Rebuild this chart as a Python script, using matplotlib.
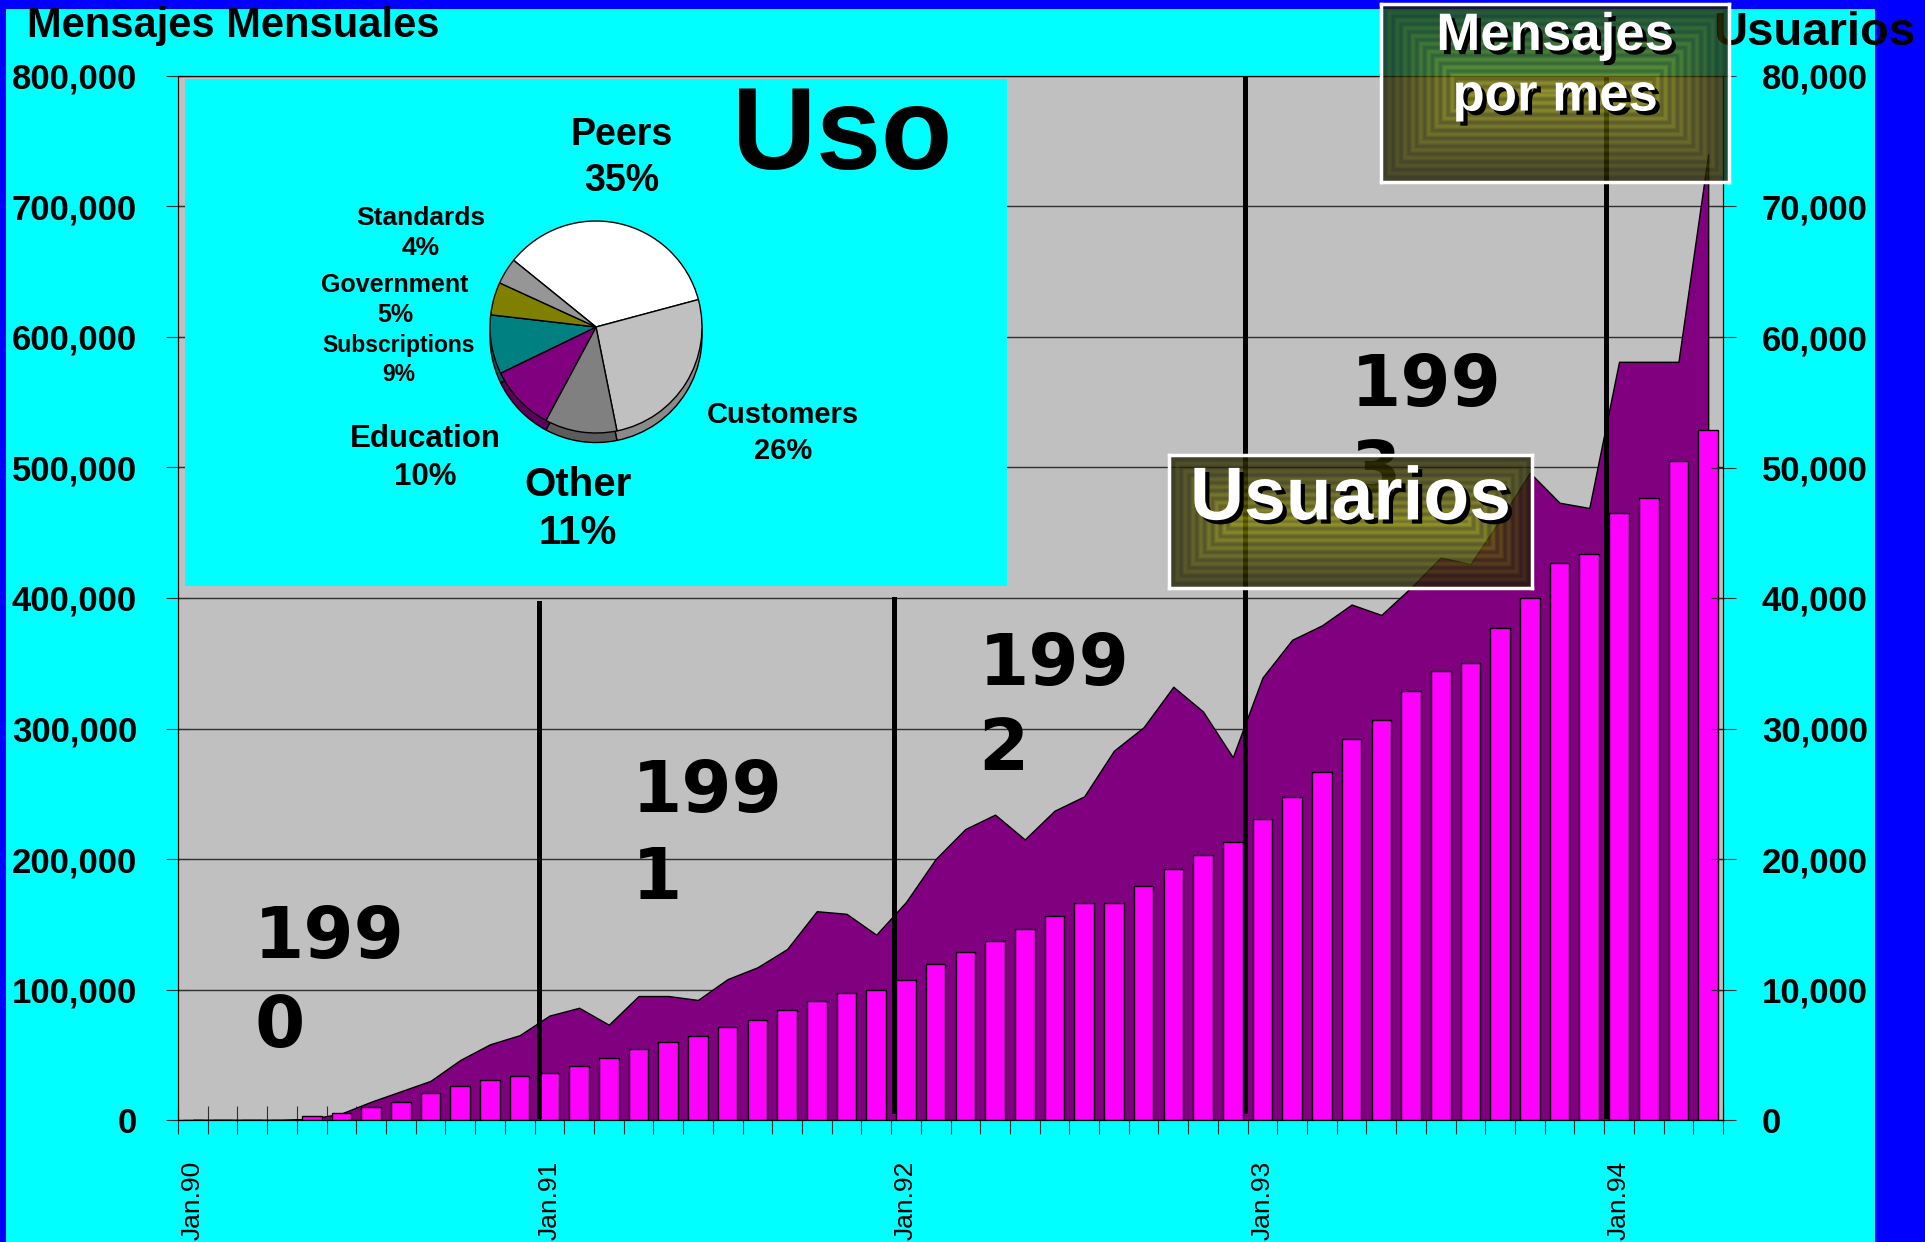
import numpy as np
import matplotlib.pyplot as plt
from matplotlib.patches import Rectangle
import matplotlib.patheffects as pe

plt.rcParams['font.family'] = ['Liberation Sans', 'DejaVu Sans']

W, H = 1925, 1242

# monthly values, Jan.90 .. Apr.94
usuarios = [0, 0, 0, 0, 300, 550, 1000, 1350, 2050, 2600, 3100, 3350,
            3600, 4100, 4750, 5450, 6000, 6400, 7100, 7700, 8450, 9100, 9700, 10000,
            10700, 11950, 12900, 13700, 14600, 15600, 16600, 16650, 17900, 19200, 20300, 21300,
            23100, 24750, 26700, 29200, 30650, 32900, 34400, 35000, 37700, 40000, 42700, 43400,
            46500, 47700, 50500, 52900]
mensajes = [0, 0, 0, 0, 1000, 5000, 14000, 22000, 30000, 46000, 58000, 65000,
            80000, 86000, 73000, 95000, 95000, 92000, 108000, 117000, 131000, 160000, 158000, 142000,
            167000, 200000, 223000, 234000, 215000, 237000, 248000, 283000, 301000, 332000, 313000, 278000,
            339000, 368000, 379000, 395000, 387000, 408000, 431000, 426000, 460000, 496000, 473000, 469000,
            581000, 581000, 581000, 740000]
month_labels = ['Jan.90', 'Jan.91', 'Jan.92', 'Jan.93', 'Jan.94']
month_label_idx = [0, 12, 24, 36, 48]

pie_labels = ['Peers', 'Customers', 'Other', 'Education', 'Subscriptions', 'Government', 'Standards']
pie_values = [35, 26, 11, 10, 9, 5, 4]
pie_colors = ['#FFFFFF', '#C0C0C0', '#808080', '#800080', '#008080', '#808000', '#969696']


def rect(x0, y0, x1, y1):
    return [x0 / W, 1 - y1 / H, (x1 - x0) / W, (y1 - y0) / H]


def ftext(px, py, s, **kw):
    return fig.text(px / W, 1 - py / H, s, **kw)


fig = plt.figure(figsize=(W / 100, H / 100), dpi=100, facecolor='#0000FF')
fig.patches.append(Rectangle((6 / W, 0), (1875 - 6) / W, (H - 9) / H, transform=fig.transFigure,
                             facecolor='#00FFFF', edgecolor='none', zorder=-1))

# main chart: area (messages, left) + bars (users, right)
ax1 = fig.add_axes(rect(178, 76, 1723, 1120))
ax1.set_facecolor('#C0C0C0')
x = np.arange(len(mensajes))
ax1.fill_between(x, mensajes, facecolor='#800080', edgecolor='black', lw=1, zorder=2)
ax1.set_xlim(-0.5, len(x) - 0.5)
ax1.set_ylim(0, 800000)
lt = np.arange(0, 800001, 100000)
ax1.set_yticks(lt, labels=[f'{v:,}' for v in lt], fontsize=25, fontweight='bold')
ax1.grid(axis='y', color='#303030', lw=1)
ax1.set_axisbelow(True)
ax1.set_xticks(np.arange(-0.5, len(x)), labels=[])
ax1.set_xticks(month_label_idx, labels=month_labels, minor=True, fontsize=19)
ax1.tick_params(axis='x', which='major', direction='inout', length=20, color='#303030')
ax1.tick_params(axis='x', which='minor', length=0, pad=29, labelrotation=90)
ax1.tick_params(axis='y', direction='inout', length=17, pad=21, color='#303030')
for s in ax1.spines.values():
    s.set_color('#404040')

ax2 = ax1.twinx()
ax2.bar(x, usuarios, width=0.66, color='#FF00FF', edgecolor='black', lw=1)
ax2.set_ylim(0, 80000)
rt = np.arange(0, 80001, 10000)
ax2.set_yticks(rt, labels=[f'{v:,}' for v in rt], fontsize=25, fontweight='bold')
ax2.tick_params(axis='y', direction='inout', length=18, pad=19, color='#303030')

# year separators and labels
for xv, y0, y1 in [(11.65, 0.004, 0.495), (23.6, 0.009, 0.499), (35.4, 0.009, 1.0), (47.55, 0.004, 1.0)]:
    ax2.axvline(xv, y0, y1, color='black', lw=3.6, zorder=4)
for xv, yb1, yb2, d in [(2.06, 124000, 56000, '0'), (14.79, 236000, 169000, '1'),
                        (26.44, 333000, 268000, '2'), (38.96, 547000, 481000, '3')]:
    for yy, s in [(yb1, '199'), (yb2, d)]:
        ax1.text(xv, yy, s, family='DejaVu Sans', fontsize=52, fontweight='bold',
                 va='baseline', ha='left', zorder=6)

# inset with pie
ins = fig.add_axes(rect(185, 79, 1007, 586))
ins.set_facecolor('#00FFFF')
ins.set_xticks([])
ins.set_yticks([])
for s in ins.spines.values():
    s.set_visible(False)

pc = (596, 327)
pr = 106
pa = fig.add_axes(rect(pc[0] - 1.25 * pr, pc[1] - 1.25 * pr, pc[0] + 1.25 * pr, pc[1] + 1.25 * pr))
pa.set_aspect('equal')
pa.axis('off')
dark = [tuple(0.72 * c for c in plt.matplotlib.colors.to_rgb(col)) for col in pie_colors]
pa.pie(pie_values, colors=dark, startangle=141, counterclock=False, center=(0, -0.09),
       wedgeprops=dict(edgecolor='black', lw=1))
pa.pie(pie_values, colors=pie_colors, startangle=141, counterclock=False, center=(0, 0),
       wedgeprops=dict(edgecolor='black', lw=1))
pa.set_xlim(-1.25, 1.25)
pa.set_ylim(-1.25, 1.25)

bold = dict(fontweight='bold', ha='center', va='center', linespacing=1.35)
ftext(842, 139, 'Uso', fontsize=84, fontweight='bold', ha='center', va='center')
ftext(622, 158, 'Peers\n35%', fontsize=27, **bold)
ftext(421, 233, 'Standards\n4%', fontsize=19, **bold)
ftext(395, 300, 'Government\n5%', fontsize=18, **bold)
ftext(399, 360, 'Subscriptions\n9%', fontsize=16.5, **bold)
ftext(425, 458, 'Education\n10%', fontsize=22.5, **bold)
ftext(578, 509, 'Other\n11%', fontsize=29, **bold)
ftext(783, 433, 'Customers\n26%', fontsize=21, **bold)

# axis titles
ftext(27, 26, 'Mensajes Mensuales', fontsize=30, fontweight='bold', ha='left', va='center')
ftext(1814, 33, 'Usuarios', fontsize=34, fontweight='bold', ha='center', va='center')


def bevel_box(x0, y0, x1, y1, label, fs, ty, ls):
    bx = fig.add_axes(rect(x0, y0, x1, y1), zorder=5)
    w, h = int(x1 - x0), int(y1 - y0)
    yy, xx = np.mgrid[0:h, 0:w]
    d = np.minimum(np.minimum(xx, w - 1 - xx), np.minimum(yy, h - 1 - yy)).astype(float)
    t = np.clip(d / (h / 2), 0, 1)
    shade = (0.3 + 0.7 * t) * (0.82 + 0.18 * np.cos(d * 0.8))
    img = np.zeros((h, w, 4))
    img[..., 0] = 0.54 * shade
    img[..., 1] = 0.54 * shade
    img[..., 2] = 0.02
    img[..., 3] = 0.8
    bx.imshow(img, extent=(0, w, h, 0), aspect='auto', interpolation='nearest')
    bx.set_facecolor('none')
    bx.set_xticks([])
    bx.set_yticks([])
    for s in bx.spines.values():
        s.set_color('white')
        s.set_linewidth(2.5)
    bx.text(0.5, ty, label, transform=bx.transAxes, color='white', fontsize=fs, fontweight='bold',
            ha='center', va='center', linespacing=ls,
            path_effects=[pe.withSimplePatchShadow(offset=(3, -3), shadow_rgbFace='black', alpha=1)])


bevel_box(1381, 4, 1729, 182, 'Mensajes\npor mes', 38, 0.65, 1.27)
bevel_box(1169, 455, 1532, 588, 'Usuarios', 54, 0.662, 1.1)

fig.savefig('out.png', dpi=100, facecolor=fig.get_facecolor())
